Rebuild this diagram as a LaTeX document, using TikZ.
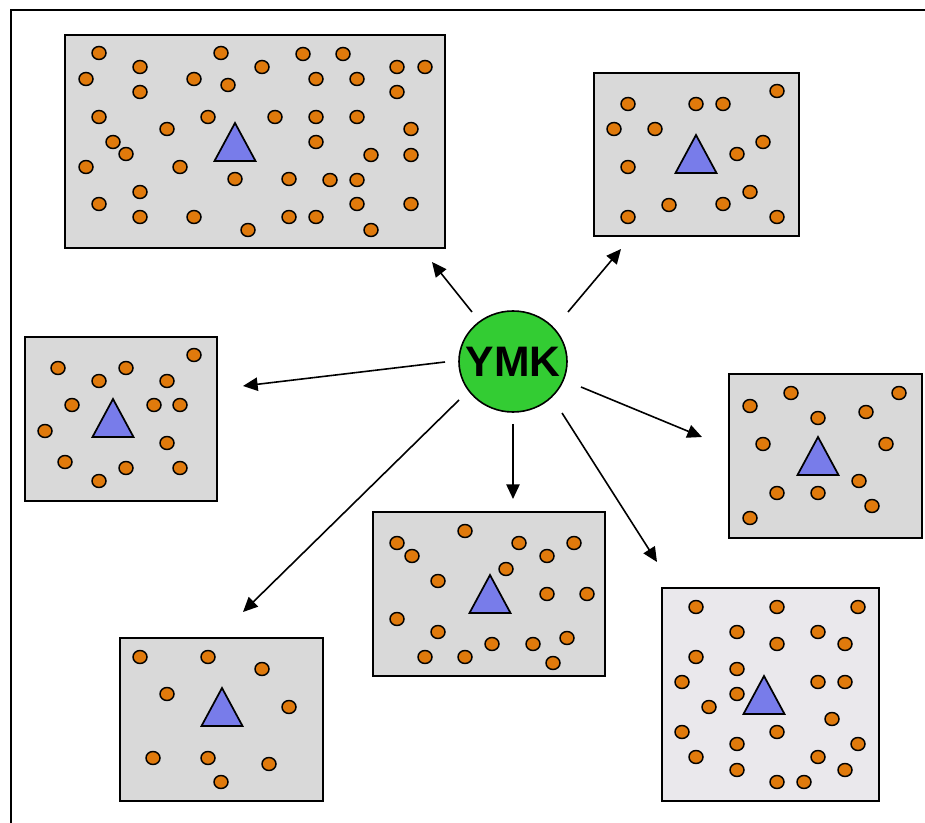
\documentclass[tikz,border=0pt]{standalone}
\usepackage{fontspec}
\setmainfont{Liberation Sans}
\usetikzlibrary{arrows.meta,shapes.geometric,fit}

\definecolor{panelgray}{RGB}{217,217,217}
\definecolor{panellight}{RGB}{234,232,236}
\definecolor{dotorange}{RGB}{224,122,12}
\definecolor{triblue}{RGB}{120,124,234}
\definecolor{ymkgreen}{RGB}{51,204,51}

\tikzset{
  panel/.style={draw=black, line width=1.5pt, fill=panelgray, inner sep=0pt, outer sep=0pt},
  dot/.style={draw=black, line width=1.1pt, fill=dotorange},
  trishape/.style={draw=black, line width=1.3pt, fill=triblue, line join=miter},
  conn/.style={line width=1.2pt, -{Triangle[length=11pt,width=10pt]}},
  hub/.style={ellipse, draw=black, line width=1.2pt, fill=ymkgreen, inner sep=0pt,
    minimum width=81pt, minimum height=75.75pt,
    font=\bfseries\fontsize{32}{32}\selectfont},
  marker/.pic={\draw[trishape] (0,0) -- (20.5,38) -- (-20.5,38) -- cycle;}
}

\begin{document}
\begin{tikzpicture}[x=0.75pt,y=-0.75pt]
\useasboundingbox (0,0) rectangle (925,823);

% outer frame (left and top edges)
\draw[line width=1.5pt] (11,823) -- (11,10) -- (925,10);

% panels
\node[panel, fit={(65,35) (445,248)}] (b1) {};
\node[panel, fit={(594,73) (799,236)}] (b2) {};
\node[panel, fit={(25,337) (217,501)}] (b3) {};
\node[panel, fit={(729,374) (922,538)}] (b4) {};
\node[panel, fit={(120,638) (323,801)}] (b5) {};
\node[panel, fit={(373,512) (605,676)}] (b6) {};
\node[panel, fill=panellight, fit={(662,588) (879,801)}] (b7) {};

% dots in each panel
\foreach \x/\y in {99/53,140/67,86/79,140/92,221/53,194/79,228/85,262/67,99/117,208/117,
  275/117,167/129,113/142,126/154,86/167,180/167,235/179,289/179,140/192,99/204,140/217,
  194/217,248/230,289/217,303/54,343/54,397/67,425/67,316/79,357/79,397/92,316/117,
  357/117,411/129,316/142,371/155,411/155,330/180,357/180,357/204,411/204,316/217,371/230}
  \draw[dot] (\x,\y) ellipse [x radius=7, y radius=6.5];
\foreach \x/\y in {628/104,696/104,723/104,777/91,614/129,655/129,763/142,737/154,
  628/167,750/192,669/205,723/204,628/217,777/217}
  \draw[dot] (\x,\y) ellipse [x radius=7, y radius=6.5];
\foreach \x/\y in {194/355,58/368,126/368,99/381,167/381,72/405,154/405,180/405,
  45/431,167/443,65/462,126/468,180/468,99/481}
  \draw[dot] (\x,\y) ellipse [x radius=7, y radius=6.5];
\foreach \x/\y in {791/393,899/393,750/406,866/412,818/418,763/444,886/444,859/481,
  777/493,818/493,872/506,750/518}
  \draw[dot] (\x,\y) ellipse [x radius=7, y radius=6.5];
\foreach \x/\y in {140/657,208/657,262/669,167/694,289/707,153/758,208/758,269/764,221/782}
  \draw[dot] (\x,\y) ellipse [x radius=7, y radius=6.5];
\foreach \x/\y in {465/531,397/543,519/543,574/543,412/556,547/556,506/569,438/581,
  547/594,587/594,397/619,438/632,567/638,492/644,533/644,425/657,465/657,553/663}
  \draw[dot] (\x,\y) ellipse [x radius=7, y radius=6.5];
\foreach \x/\y in {696/607,777/607,858/607,737/632,818/632,777/644,845/644,696/657,
  737/669,682/682,818/682,845/682,737/694,709/707,832/719,682/732,777/732,737/744,
  858/744,696/757,818/757,737/770,845/770,777/782,804/782}
  \draw[dot] (\x,\y) ellipse [x radius=7, y radius=6.5];

% triangles (placed by apex)
\pic at (235,123) {marker};
\pic at (696,135) {marker};
\pic at (113,399) {marker};
\pic at (818,437) {marker};
\pic at (222,688) {marker};
\pic at (490,575) {marker};
\pic at (764,676) {marker};

% central node; the label is boxed at zero width so the ellipse keeps its size
\node[hub] (ymk) at (513,361.5) {\makebox[0pt]{YMK}};

% connector ends
\coordinate (s1) at (472,312); \coordinate (t1) at (432,262);
\coordinate (s2) at (568,312); \coordinate (t2) at (621,249);
\coordinate (s3) at (445,362); \coordinate (t3) at (243,386);
\coordinate (s4) at (581,387); \coordinate (t4) at (702,437);
\coordinate (s5) at (513,424); \coordinate (t5) at (513,499);
\coordinate (s6) at (562,413); \coordinate (t6) at (657,562);
\coordinate (s7) at (459,400); \coordinate (t7) at (243,612);

\foreach \i in {1,...,7}
  \draw[conn] (s\i) -- (t\i);
\end{tikzpicture}
\end{document}
